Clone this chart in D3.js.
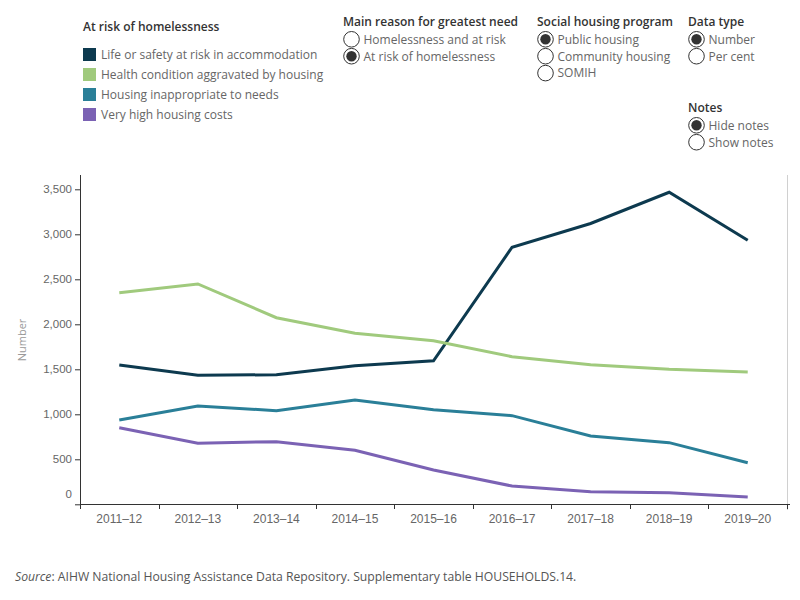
<!DOCTYPE html>
<html><head><meta charset="utf-8">
<script src="https://cdn.jsdelivr.net/npm/d3@7"></script>
<style>
body{margin:0;background:#fff;}
svg{font-family:"Open Sans",sans-serif;}
</style></head>
<body><svg id="c" width="800" height="600"></svg>
<script>
const years = ["2011–12","2012–13","2013–14","2014–15","2015–16","2016–17","2017–18","2018–19","2019–20"];
const seriesNames = ["Life or safety at risk in accommodation","Health condition aggravated by housing","Housing inappropriate to needs","Very high housing costs"];
const colors = ["#0d3a4f","#a0ca7d","#2a7f98","#7b62b4"];
const lifeSafety = [1548,1433,1440,1540,1594,2856,3120,3467,2933];
const healthCond = [2351,2448,2073,1900,1818,1640,1551,1500,1470];
const inappropriate = [937,1092,1040,1159,1050,985,759,685,462];
const highCosts = [851,678,696,600,381,203,140,129,81];
const yTicks = [0,500,1000,1500,2000,2500,3000,3500];
const allSeries = [lifeSafety, healthCond, inappropriate, highCosts];

const svg = d3.select("#c");
const x = d3.scaleBand().domain(years).range([80,787]);
const y = d3.scaleLinear().domain([0,3500]).range([504.3,189.3]);

// right gray border line
svg.append("line").attr("x1",787.5).attr("x2",787.5).attr("y1",175).attr("y2",510).attr("stroke","#d0d0d0");

// y axis
const ya = svg.append("g").attr("transform","translate(80,0)")
  .call(d3.axisLeft(y).tickValues(yTicks).tickFormat(d3.format(",")).tickSize(5).tickPadding(3));
ya.select(".domain").remove();
ya.selectAll(".tick line").attr("stroke","#333");
ya.selectAll(".tick text").attr("fill","#666").attr("font-size","11.5px")
  .attr("dy", d => d===0 ? "-0.55em" : "0.32em");
svg.append("line").attr("x1",80.5).attr("x2",80.5).attr("y1",175).attr("y2",505).attr("stroke","#333");

// x axis
const xa = svg.append("g").attr("transform","translate(0,504.5)")
  .call(d3.axisBottom(x).tickSize(0).tickPadding(10));
xa.select(".domain").remove();
xa.selectAll(".tick text").attr("fill","#666").attr("font-size","12px");
svg.append("line").attr("x1",80).attr("x2",790).attr("y1",504.5).attr("y2",504.5).attr("stroke","#333");
const bounds = years.map(d=>x(d)).concat([x.range()[1]]);
svg.append("g").selectAll("line").data(bounds).join("line")
  .attr("x1",d=>Math.round(d)+0.5).attr("x2",d=>Math.round(d)+0.5).attr("y1",504.5).attr("y2",509)
  .attr("stroke","#333");

// y title
svg.append("text").attr("transform","translate(26,340) rotate(-90)").attr("text-anchor","middle")
  .attr("fill","#999").attr("font-size","11px").text("Number");

// lines
const line = d3.line().x((d,i)=>x(years[i])+x.bandwidth()/2).y(d=>y(d));
svg.append("g").selectAll("path").data(allSeries).join("path")
  .attr("d",line).attr("fill","none").attr("stroke",(d,i)=>colors[i]).attr("stroke-width",3)
  .attr("stroke-linejoin","miter");

// legend
svg.append("text").attr("x",83).attr("y",31).attr("fill","#333").attr("font-size","12px").attr("font-weight",600)
  .text("At risk of homelessness");
const lg = svg.append("g").selectAll("g").data(seriesNames).join("g")
  .attr("transform",(d,i)=>`translate(83,${48+i*20})`);
lg.append("rect").attr("width",13).attr("height",13).attr("fill",(d,i)=>colors[i]);
lg.append("text").attr("x",18).attr("y",11).attr("fill","#666").attr("font-size","12px").text(d=>d);

// radio groups
const groups = [
  {title:"Main reason for greatest need", x:343, y:26, opts:["Homelessness and at risk","At risk of homelessness"], sel:1},
  {title:"Social housing program", x:537, y:26, opts:["Public housing","Community housing","SOMIH"], sel:0},
  {title:"Data type", x:688, y:26, opts:["Number","Per cent"], sel:0},
  {title:"Notes", x:688, y:112, opts:["Hide notes","Show notes"], sel:0}
];
groups.forEach(g=>{
  const gg = svg.append("g");
  gg.append("text").attr("x",g.x).attr("y",g.y).attr("fill","#333").attr("font-size","12px").attr("font-weight",600).text(g.title);
  g.opts.forEach((o,i)=>{
    const cy = g.y + 13.3 + i*16.9;
    gg.append("circle").attr("cx",g.x+8.5).attr("cy",cy).attr("r",7.8).attr("fill","#fff").attr("stroke","#333").attr("stroke-width",1);
    if(i===g.sel) gg.append("circle").attr("cx",g.x+8.5).attr("cy",cy).attr("r",5.2).attr("fill","#333");
    gg.append("text").attr("x",g.x+20.5).attr("y",cy+4.3).attr("fill","#666").attr("font-size","12px").text(o);
  });
});

// source
const src = svg.append("text").attr("x",15).attr("y",581).attr("fill","#555").attr("font-size","12.2px");
src.append("tspan").attr("font-style","italic").text("Source");
src.append("tspan").text(": AIHW National Housing Assistance Data Repository. Supplementary table HOUSEHOLDS.14.");
</script></body></html>
